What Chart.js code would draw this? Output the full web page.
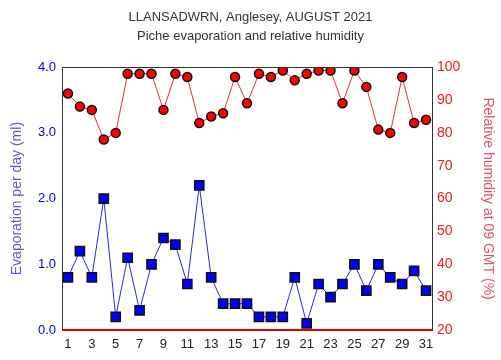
<!DOCTYPE html>
<html><head><meta charset="utf-8">
<script src="https://cdn.jsdelivr.net/npm/chart.js@4/dist/chart.umd.min.js"></script>
<style>html,body{margin:0;padding:0;background:#fff;}#wrap{width:501px;height:360px;}</style>
</head><body><div id="wrap"><canvas id="c" width="501" height="360"></canvas></div>
<script>
const days = [1,2,3,4,5,6,7,8,9,10,11,12,13,14,15,16,17,18,19,20,21,22,23,24,25,26,27,28,29,30,31];
const evaporation = [0.8,1.2,0.8,2.0,0.2,1.1,0.3,1.0,1.4,1.3,0.7,2.2,0.8,0.4,0.4,0.4,0.2,0.2,0.2,0.8,0.1,0.7,0.5,0.7,1.0,0.6,1.0,0.8,0.7,0.9,0.6];
const humidity = [92,88,87,78,80,98,98,98,87,98,97,83,85,86,97,89,98,97,99,96,98,99,99,89,99,94,81,80,97,83,84];
const leftTicks = [0,1,2,3,4];
const rightTicks = [20,30,40,50,60,70,80,90,100];

const frame = {
  id:'frame',
  afterDraw(chart){
    const a = chart.chartArea, ctx = chart.ctx;
    ctx.save();
    ctx.strokeStyle = '#333';
    ctx.lineWidth = 1;
    ctx.strokeRect(Math.round(a.left)+0.5, Math.round(a.top)+0.5, Math.round(a.right-a.left), Math.round(a.bottom-a.top));
    ctx.strokeStyle = '#e00000';
    ctx.lineWidth = 2;
    ctx.beginPath();
    ctx.moveTo(a.left, Math.round(a.bottom));
    ctx.lineTo(a.right, Math.round(a.bottom));
    ctx.stroke();
    ctx.restore();
  }
};

new Chart(document.getElementById('c'), {
  type:'line',
  data:{
    labels: days.map(String),
    datasets:[
      {label:'Evaporation', data:evaporation, yAxisID:'y', borderColor:'#2a2ad0', borderWidth:1,
       pointStyle:'rect', pointRadius:6.5, pointBackgroundColor:'#0000ff', pointBorderColor:'#111', pointBorderWidth:1.5, tension:0},
      {label:'Humidity', data:humidity, yAxisID:'y1', borderColor:'#e0303a', borderWidth:1,
       pointStyle:'circle', pointRadius:4.5, pointBackgroundColor:'#ff0000', pointBorderColor:'#111', pointBorderWidth:1.5, tension:0}
    ]
  },
  options:{
    responsive:false, animation:false,
    layout:{padding:{top:0,left:0,right:0,bottom:0}},
    plugins:{
      legend:{display:false}, tooltip:{enabled:false},
      title:{display:true, text:'LLANSADWRN, Anglesey, AUGUST 2021', color:'#333', font:{family:'Liberation Sans', size:13, weight:'normal'}, padding:{top:10,bottom:3}},
      subtitle:{display:true, text:'Piche evaporation and relative humidity', color:'#333', font:{family:'Liberation Sans', size:13}, padding:{top:0,bottom:23}}
    },
    scales:{
      x:{type:'category', offset:true, grid:{display:false, drawTicks:false}, border:{display:false},
         ticks:{autoSkip:false, maxRotation:0, color:'#222', font:{family:'Liberation Sans', size:13}, padding:7,
                callback:function(v,i){ return (days[i]%2===1) ? String(days[i]) : ''; }},
         afterFit(s){ s.height = 30; }},
      y:{position:'left', min:0, max:4, grid:{display:false, drawTicks:false}, border:{display:false},
         afterBuildTicks(s){ s.ticks = leftTicks.map(v=>({value:v})); },
         ticks:{color:'#0000cc', font:{family:'Liberation Sans', size:13}, padding:6, callback:v=>v.toFixed(1)},
         title:{display:true, text:'Evaporation per day (ml)', color:'#5c5cc0', font:{family:'Liberation Sans', size:14}, padding:{top:9,bottom:4}},
         afterFit(s){ s.width = 62; }},
      y1:{position:'right', min:20, max:100, grid:{display:false, drawTicks:false}, border:{display:false},
         afterBuildTicks(s){ s.ticks = rightTicks.map(v=>({value:v})); },
         ticks:{color:'#e02020', font:{family:'Liberation Sans', size:14}, padding:5},
         title:{display:true, text:'Relative humidity at 09 GMT (%)', color:'#e05070', font:{family:'Liberation Sans', size:14}, padding:{top:5,bottom:0}},
         afterFit(s){ s.width = 69; }}
    }
  },
  plugins:[frame]
});
</script></body></html>
